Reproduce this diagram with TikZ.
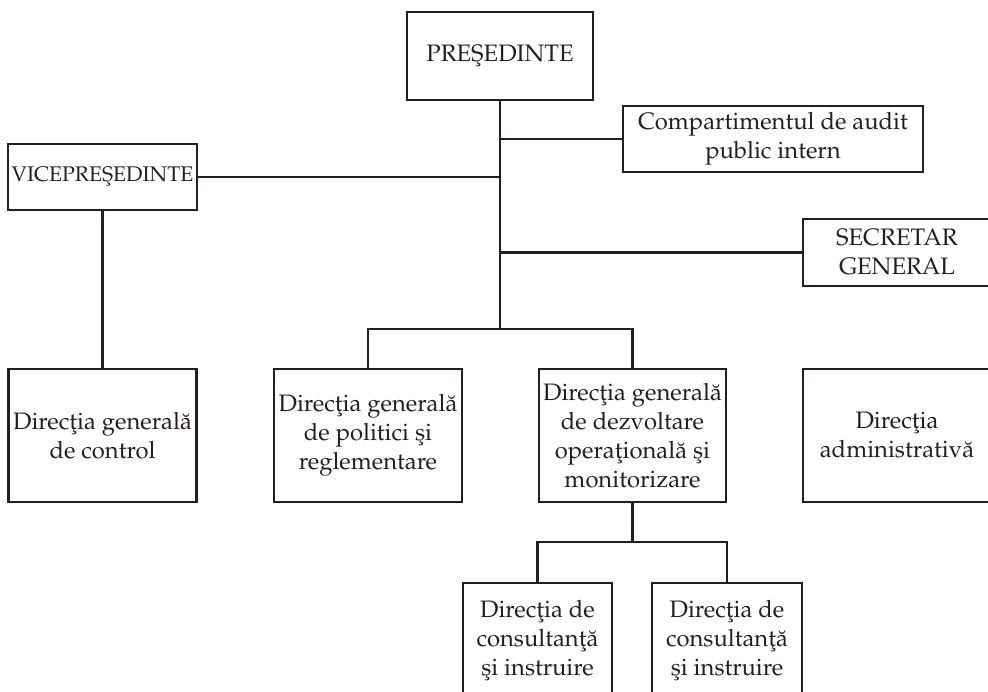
\documentclass[tikz,border=0pt]{standalone}
\usepackage[T1]{fontenc}
\usepackage{mathpazo}
\definecolor{ink}{RGB}{35,31,32}
\begin{document}
\begin{tikzpicture}[x=1pt,y=-1pt,
  box/.style={draw=ink, text=ink, line width=2.3pt, rectangle, inner sep=0pt, align=center,
    font=\fontsize{23.8}{29}\selectfont},
  ln/.style={draw=ink, line width=2.3pt}]
\useasboundingbox (0,0) rectangle (988,691);
\clip (0,0) rectangle (988,691);
% top level
\node[box, minimum width=186pt, minimum height=88pt] (pres) at (500,56) {PRE\c{S}EDINTE};
\node[box, minimum width=189pt, minimum height=66pt, font=\fontsize{21.2}{26}\selectfont] (vice) at (102.5,177) {VICEPRE\c{S}EDINTE};
\node[box, minimum width=300pt, minimum height=66pt] (comp) at (773,139) {Compartimentul de audit\\public intern};
\node[box, minimum width=188pt, minimum height=67pt] (sec) at (897,252.5) {SECRETAR\\GENERAL};
% row
\node[box, minimum width=188pt, minimum height=133pt] (ctrl) at (102.5,435.5) {Direc\c{t}ia general\u{a}\\de control};
\node[box, minimum width=188pt, minimum height=133pt] (pol) at (368,435.5) {Direc\c{t}ia general\u{a}\\de politici \c{s}i\\reglementare};
\node[box, minimum width=187pt, minimum height=133pt] (dezv) at (632.5,435.5) {Direc\c{t}ia general\u{a}\\de dezvoltare\\opera\c{t}ional\u{a} \c{s}i\\monitorizare};
\node[box, minimum width=188pt, minimum height=133pt] (adm) at (897,435.5) {Direc\c{t}ia\\administrativ\u{a}};
% bottom
\node[box, minimum width=149pt, minimum height=116pt] (cons1) at (537.5,641) {Direc\c{t}ia de\\consultan\c{t}\u{a}\\\c{s}i instruire};
\node[box, minimum width=150pt, minimum height=116pt] (cons2) at (727,641) {Direc\c{t}ia de\\consultan\c{t}\u{a}\\\c{s}i instruire};
% connectors
\coordinate (j) at (500,329);
\coordinate (k) at (632.5,542);
\draw[ln] (pres.south) -- (j);
\draw[ln] (comp.west) -- (comp.west -| pres.south);
\draw[ln] (vice.east) -- (vice.east -| pres.south);
\draw[ln] (sec.west) -- (sec.west -| pres.south);
\draw[ln] (pol.north) |- (j) -| (dezv.north);
\draw[ln] (vice.south) -- (ctrl.north);
\draw[ln] (dezv.south) -- (k);
\draw[ln] (cons1.north) |- (k) -| (cons2.north);
\end{tikzpicture}
\end{document}
